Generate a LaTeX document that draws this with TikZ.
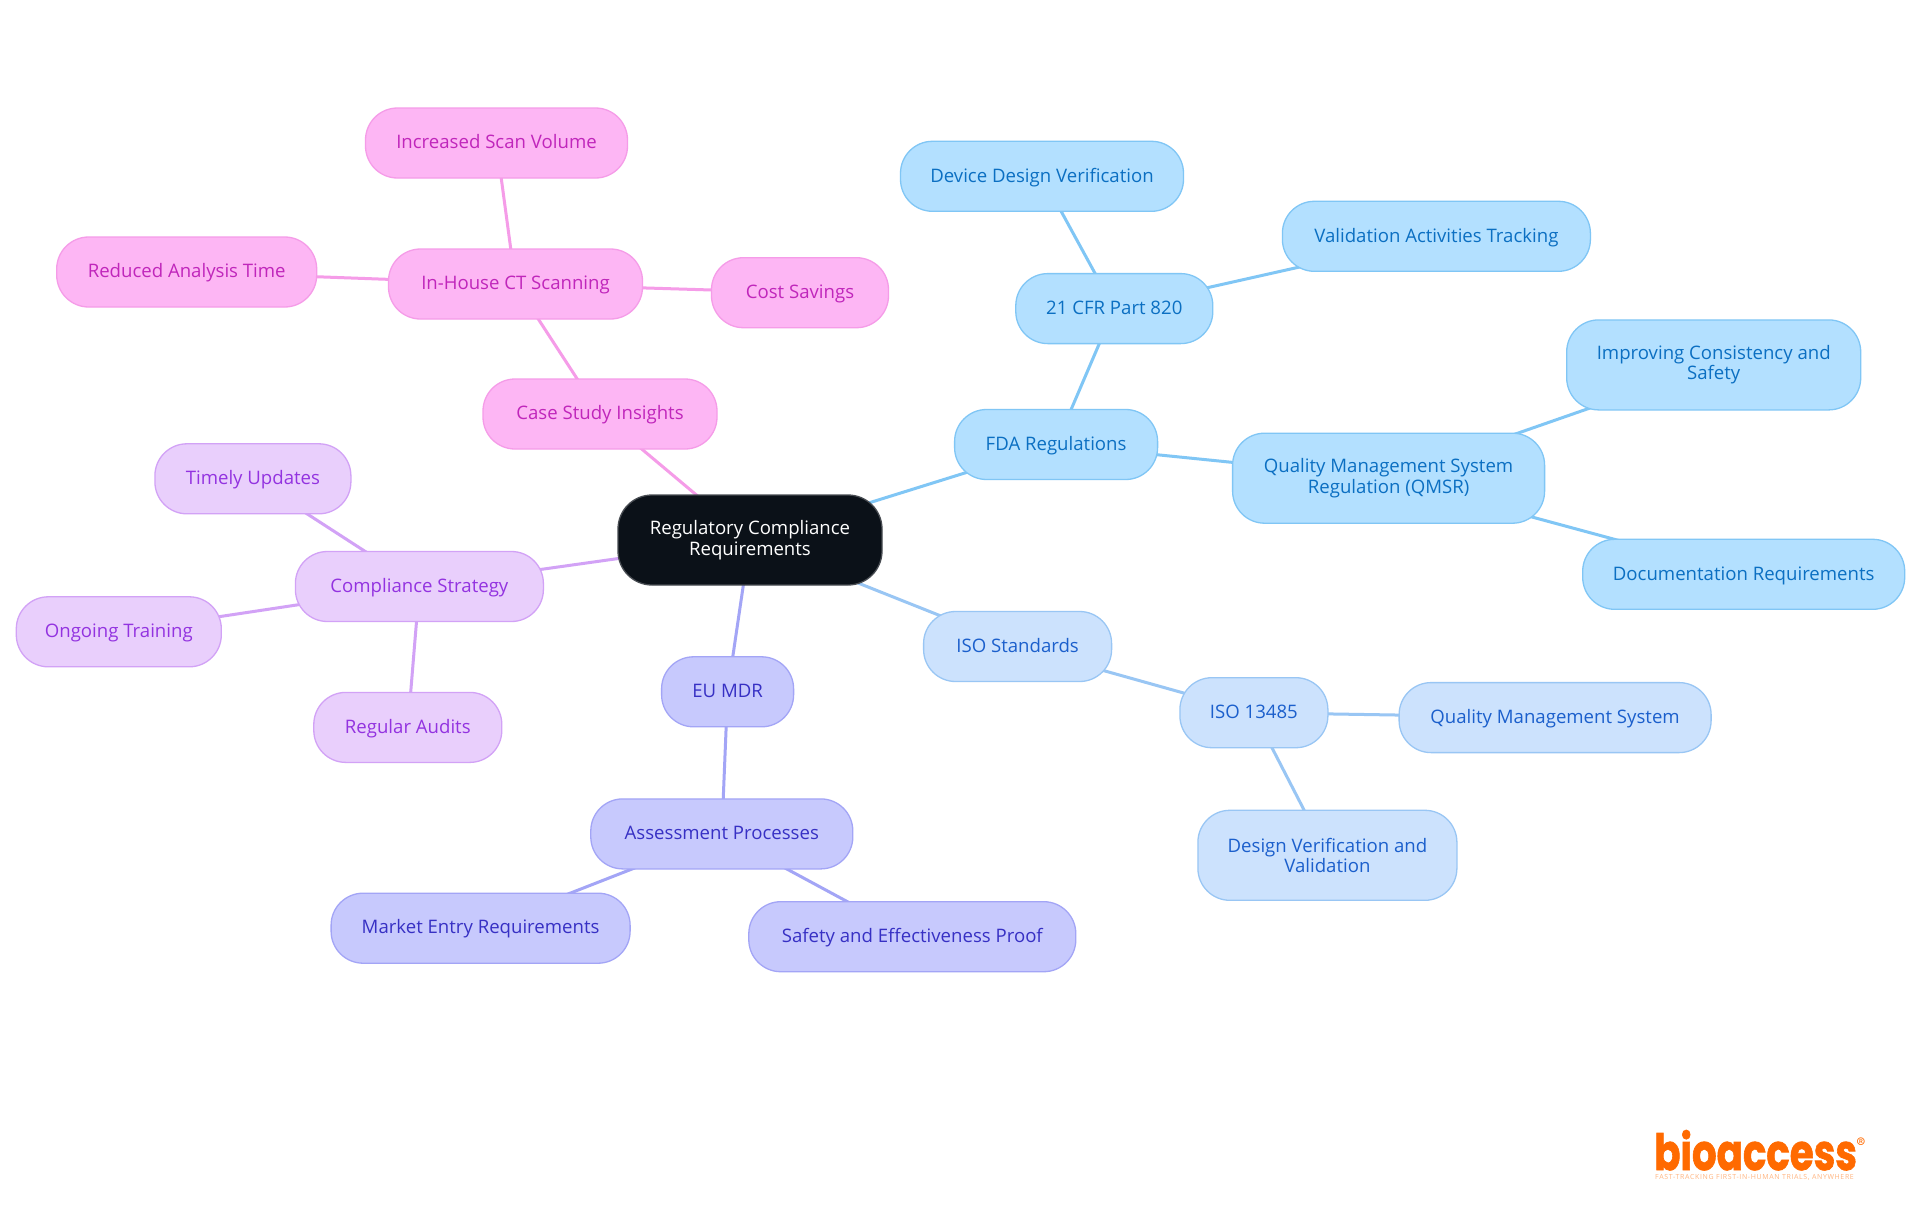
\documentclass[tikz,border=0pt]{standalone}
\usepackage{fontspec}
\setmainfont{Open Sans}
\newfontfamily\logofont[BoldFeatures={FakeBold=1.5}]{Poppins}
\newfontfamily\tagfont[LetterSpace=9]{Open Sans}
\usetikzlibrary{backgrounds}
\definecolor{skyF}{HTML}{B3E0FF}\definecolor{skyD}{HTML}{80C6F5}\definecolor{skyT}{HTML}{0B6FC2}
\definecolor{bluF}{HTML}{CCE2FD}\definecolor{bluD}{HTML}{99C6F4}\definecolor{bluT}{HTML}{1B5FCC}
\definecolor{indF}{HTML}{C7C9FD}\definecolor{indD}{HTML}{A3A5F6}\definecolor{indT}{HTML}{3730C4}
\definecolor{purF}{HTML}{E9CFFC}\definecolor{purD}{HTML}{D2A2F6}\definecolor{purT}{HTML}{9333E0}
\definecolor{pnkF}{HTML}{FDB6F4}\definecolor{pnkD}{HTML}{F59CE8}\definecolor{pnkT}{HTML}{C026BB}
\definecolor{rootF}{HTML}{0B1118}\definecolor{orng}{HTML}{FF6A00}
\tikzset{
 x=1pt,y=-1pt,
 box/.style={rectangle,rounded corners=32pt,line width=1.3pt,minimum height=70pt,inner sep=0pt,align=center,text height=13pt,text depth=1.5pt,font=\fontsize{18.6}{20.5}\selectfont},
 tall/.style={minimum height=90pt,text height={},text depth={}},
 sky/.style={box,fill=skyF,draw=skyD,text=skyT},
 blu/.style={box,fill=bluF,draw=bluD,text=bluT},
 ind/.style={box,fill=indF,draw=indD,text=indT},
 pur/.style={box,fill=purF,draw=purD,text=purT},
 pnk/.style={box,fill=pnkF,draw=pnkD,text=pnkT},
 rootbox/.style={box,tall,rounded corners=34pt,minimum width=264pt,fill=rootF,draw=rootF!75!white,text=white},
 link/.style={line width=3pt},
}
\begin{document}
\begin{tikzpicture}
\useasboundingbox (0,0) rectangle (1920,1215);
\node[rootbox] (root) at (750,540) {Regulatory Compliance\\Requirements};
% pink
\node[pnk,minimum width=262pt] (isv) at (496.5,143) {Increased Scan Volume};
\node[pnk,minimum width=254pt] (ct) at (515.5,284) {In-House CT Scanning};
\node[pnk,minimum width=260pt] (rat) at (186.7,272) {Reduced Analysis Time};
\node[pnk,minimum width=177pt] (cost) at (800,292.7) {Cost Savings};
\node[pnk,minimum width=234pt] (case) at (600,414) {Case Study Insights};
% purple
\node[pur,minimum width=196pt] (tu) at (252.9,478.8) {Timely Updates};
\node[pur,minimum width=248pt] (cs) at (419.4,586.5) {Compliance Strategy};
\node[pur,minimum width=205pt] (ot) at (118.8,631.8) {Ongoing Training};
\node[pur,minimum width=188pt] (ra) at (407.8,727.4) {Regular Audits};
% indigo
\node[ind,minimum width=132pt] (eu) at (727.6,691.8) {EU MDR};
\node[ind,minimum width=262pt] (ap) at (721.8,833.9) {Assessment Processes};
\node[ind,minimum width=299pt] (mer) at (480.6,928.2) {Market Entry Requirements};
\node[ind,minimum width=327pt] (sep) at (912.3,936.7) {Safety and Effectiveness Proof};
% blue
\node[blu,minimum width=188pt] (iso) at (1017.6,646.5) {ISO Standards};
\node[blu,minimum width=148pt] (i13) at (1253.9,712.7) {ISO 13485};
\node[blu,minimum width=312pt] (qms) at (1555.1,717.6) {Quality Management System};
\node[blu,tall,minimum width=259pt] (dvv) at (1327.4,855.3) {Design Verification and\\Validation};
% sky
\node[sky,minimum width=203pt] (fda) at (1056.1,444.5) {FDA Regulations};
\node[sky,minimum width=197pt] (cfr) at (1114.3,308.6) {21 CFR Part 820};
\node[sky,minimum width=283pt] (ddv) at (1042,176.3) {Device Design Verification};
\node[sky,minimum width=308pt] (vat) at (1436.4,236.3) {Validation Activities Tracking};
\node[sky,tall,minimum width=312pt] (qmsr) at (1388.6,478.2) {Quality Management System\\Regulation (QMSR)};
\node[sky,tall,minimum width=294pt] (ics) at (1713.7,364.9) {Improving Consistency and\\Safety};
\node[sky,minimum width=322pt] (doc) at (1743.7,574.3) {Documentation Requirements};
% logo
\node[inner sep=0pt,anchor=base west,text=orng,font=\logofont\bfseries\fontsize{50}{50}\selectfont] (logo) at (1654,1170) {\scalebox{0.775}[1]{bioaccess}};
\node[inner sep=0pt,text=orng,font=\sffamily\bfseries\fontsize{11}{11}\selectfont] (reg) at (1861,1142) {\textregistered};
\node[inner sep=0pt,anchor=base west,text=orng!50!white,font=\tagfont\fontsize{7}{7}\selectfont] (tag) at (1655,1179) {FAST-TRACKING FIRST-IN-HUMAN TRIALS, ANYWHERE};
\begin{scope}[on background layer]
\fill[white] (0,0) rectangle (1920,1215);
\foreach \a/\b/\c in {root/case/pnkD,case/ct/pnkD,ct/isv/pnkD,ct/rat/pnkD,ct/cost/pnkD,
 root/cs/purD,cs/tu/purD,cs/ot/purD,cs/ra/purD,
 root/eu/indD,eu/ap/indD,ap/mer/indD,ap/sep/indD,
 root/iso/bluD,iso/i13/bluD,i13/qms/bluD,i13/dvv/bluD,
 root/fda/skyD,fda/cfr/skyD,cfr/ddv/skyD,cfr/vat/skyD,fda/qmsr/skyD,qmsr/ics/skyD,qmsr/doc/skyD}
 \draw[link,draw=\c] (\a.center) -- (\b.center);
\end{scope}
\end{tikzpicture}
\end{document}
